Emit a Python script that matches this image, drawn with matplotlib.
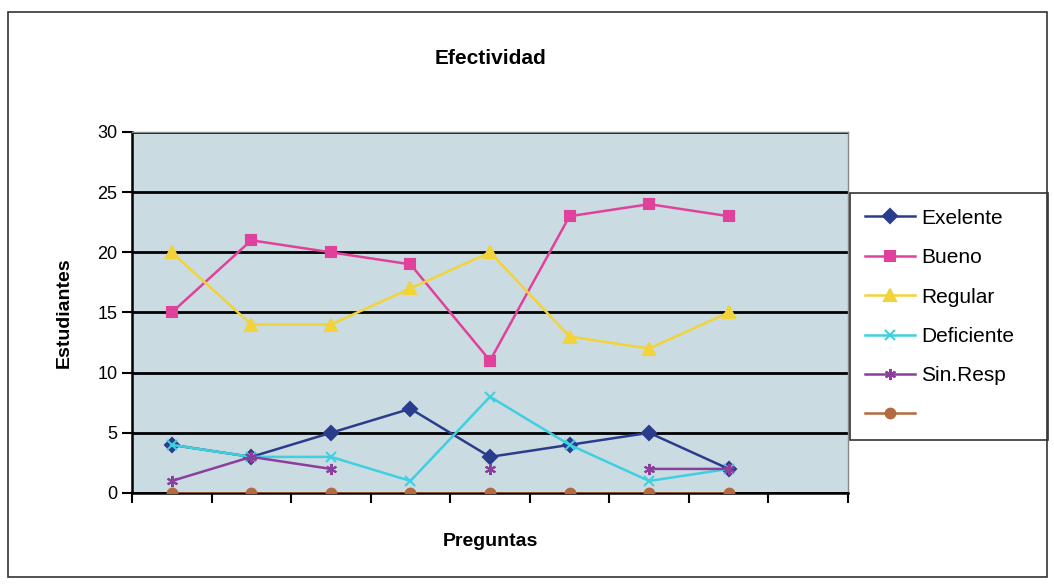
import numpy as np
import matplotlib
matplotlib.use("Agg")
import matplotlib.pyplot as plt
from matplotlib.patches import Rectangle

plt.rcParams['font.family'] = ['Liberation Sans', 'DejaVu Sans']

# datos
preguntas = [1, 2, 3, 4, 5, 6, 7, 8]
exelente = [4, 3, 5, 7, 3, 4, 5, 2]
bueno = [15, 21, 20, 19, 11, 23, 24, 23]
regular = [20, 14, 14, 17, 20, 13, 12, 15]
deficiente = [4, 3, 3, 1, 8, 4, 1, 2]
sin_resp = [1, 3, 2, np.nan, 2, np.nan, 2, 2]
serie6 = [0, 0, 0, 0, 0, 0, 0, 0]
n_slots = 9

fig = plt.figure(figsize=(10.54, 5.85), dpi=100)
ax = fig.add_axes([0.1252, 0.1573, 0.6794, 0.6171])

# borde exterior del grafico
fig.patches.append(Rectangle((0.008, 0.014), 0.985, 0.965, transform=fig.transFigure,
                             fill=False, edgecolor='#333333', linewidth=1.2))

ax.set_facecolor('#cbdbe2')
x = np.array(preguntas) - 0.5

series = [
    ("Exelente", exelente, '#2a3d8c', 'D', 7),
    ("Bueno", bueno, '#e0429b', 's', 7),
    ("Regular", regular, '#f2d33a', '^', 8),
    ("Deficiente", deficiente, '#3fd0e0', 'x', 7),
    ("Sin.Resp", sin_resp, '#8a3f9c', (6, 2, 0), 8),
    ("", serie6, '#b5693f', 'o', 7),
]
for name, vals, col, mk, ms in series:
    ax.plot(x, vals, color=col, marker=mk, markersize=ms, linewidth=1.8,
            markeredgecolor=col, markeredgewidth=1.5, label=name if name else " ", zorder=3)

ax.set_xlim(0, n_slots)
ax.set_ylim(0, 30)
ax.set_yticks(range(0, 31, 5))
ax.tick_params(axis='y', labelsize=13, length=7, width=1.5, direction='out')
ax.set_xticks(range(0, n_slots + 1))
ax.set_xticklabels([])
ax.tick_params(axis='x', length=7, width=1.5, direction='out')
ax.yaxis.grid(True, color='black', linewidth=2)
ax.set_axisbelow(True)

for s in ['top', 'right']:
    ax.spines[s].set_color('#888888')
    ax.spines[s].set_linewidth(1)
for s in ['left', 'bottom']:
    ax.spines[s].set_color('black')
    ax.spines[s].set_linewidth(1.8)

ax.set_title("Efectividad", fontsize=15, fontweight='bold', pad=49)
ax.set_ylabel("Estudiantes", fontsize=14, fontweight='bold', labelpad=18)
ax.set_xlabel("Preguntas", fontsize=14, fontweight='bold', labelpad=18)

leg = ax.legend(loc='upper left', bbox_to_anchor=(0.806, 0.256, 0.188, 0.414), bbox_transform=fig.transFigure,
                fontsize=15, frameon=True, fancybox=False, handlelength=2.4, handletextpad=0.3,
                borderpad=0.75, labelspacing=0.98, mode='expand', borderaxespad=0)
leg.get_frame().set_edgecolor('black')
leg.get_frame().set_linewidth(1.2)

fig.savefig("out.png", dpi=100)
